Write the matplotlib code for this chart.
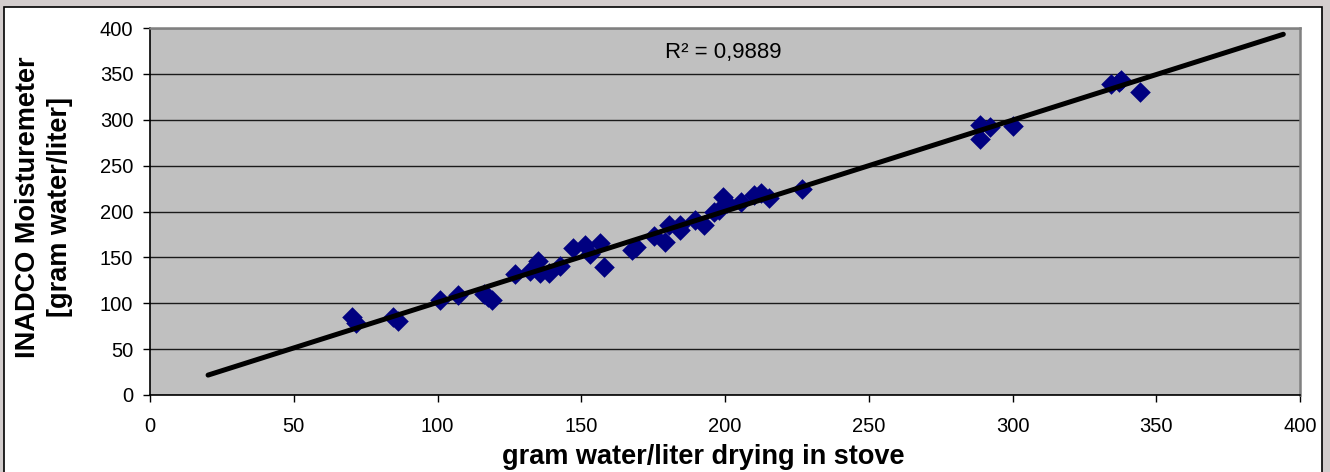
import numpy as np
import matplotlib
matplotlib.use("Agg")
import matplotlib.pyplot as plt
from matplotlib.patches import Rectangle

# drying in stove (x) vs INADCO moisturemeter (y), gram water/liter
stove = [70.2, 71.5, 84.5, 86.1, 100.7, 107.3, 116.0, 117.5, 119.0,
         127.0, 132.0, 134.8, 135.5, 138.7, 142.5, 147.1, 151.4, 153.0,
         156.5, 158.0, 167.7, 169.2, 175.2, 179.3, 180.4, 184.3, 184.5,
         189.7, 192.6, 196.1, 197.8, 199.4, 200.8, 205.4, 210.0, 212.4,
         215.3, 226.8, 288.8, 288.8, 292.2, 300.0, 334.1, 337.1, 337.9,
         344.2]
meter = [85.0, 79.0, 85.0, 80.5, 103.5, 108.5, 110.5, 106.5, 103.5,
         132.0, 135.5, 146.0, 132.5, 133.5, 140.5, 160.0, 164.0, 154.0,
         166.0, 140.0, 158.5, 161.0, 173.3, 167.0, 185.0, 185.0, 180.0,
         190.5, 185.0, 199.8, 201.6, 216.0, 209.0, 210.7, 218.0, 219.7,
         214.3, 224.3, 294.0, 279.0, 291.6, 293.7, 339.0, 341.5, 343.0,
         330.6]
r2_label = "R\u00b2 = 0,9889"
x_ticks = [0, 50, 100, 150, 200, 250, 300, 350, 400]
y_ticks = [0, 50, 100, 150, 200, 250, 300, 350, 400]
trend_extend = 50  # excel forecast forward/backward

plt.rcParams['font.family'] = ['Liberation Sans', 'DejaVu Sans']

W, H = 1330, 472
fig = plt.figure(figsize=(W / 100, H / 100), dpi=100)
fig.patch.set_facecolor('#d3cdcd')

# white chart area with black frame, kept behind the axes
frame = Rectangle((4 / W, -0.05), (1322 - 4) / W, (H - 7) / H + 0.05,
                  transform=fig.transFigure, facecolor='white',
                  edgecolor='black', linewidth=1.2, zorder=-5)
fig.patches.append(frame)

ax = fig.add_axes([150 / W, 1 - 395 / H, (1300 - 150) / W, (395 - 28) / H])
ax.set_facecolor('#c0c0c0')

x = np.array(stove)
y = np.array(meter)
slope, intercept = np.polyfit(x, y, 1)
xs = np.array([x.min() - trend_extend, x.max() + trend_extend])

ax.scatter(x, y, marker='D', s=110, color='#000080', linewidths=0, zorder=3)
ax.plot(xs, slope * xs + intercept, color='black', linewidth=3.6,
        solid_capstyle='round', zorder=4)

ax.set_xlim(0, 400)
ax.set_ylim(0, 400)
ax.set_xticks(x_ticks)
ax.set_yticks(y_ticks)
ax.yaxis.grid(True, color='#1a1a1a', linewidth=1.0)
ax.set_axisbelow(True)

for side in ['top', 'right']:
    ax.spines[side].set_color('#808080')
    ax.spines[side].set_linewidth(1.8)
for side in ['left', 'bottom']:
    ax.spines[side].set_color('black')
    ax.spines[side].set_linewidth(1.2)

ax.tick_params(direction='out', length=5, width=1, labelsize=14.5, color='black')
ax.tick_params(axis='x', pad=11)
ax.tick_params(axis='y', pad=7)

ax.text(179, 373, r2_label, fontsize=16, va='center', ha='left')

fig.text(703 / W, 1 - 457 / H, "gram water/liter drying in stove",
         fontsize=19.5, fontweight='bold', ha='center', va='center')
fig.text(44 / W, 1 - 207 / H, "INADCO Moisturemeter\n[gram water/liter]",
         fontsize=19.5, fontweight='bold', ha='center', va='center',
         rotation=90, linespacing=1.3)

fig.savefig("out.png", dpi=100, facecolor=fig.get_facecolor())
